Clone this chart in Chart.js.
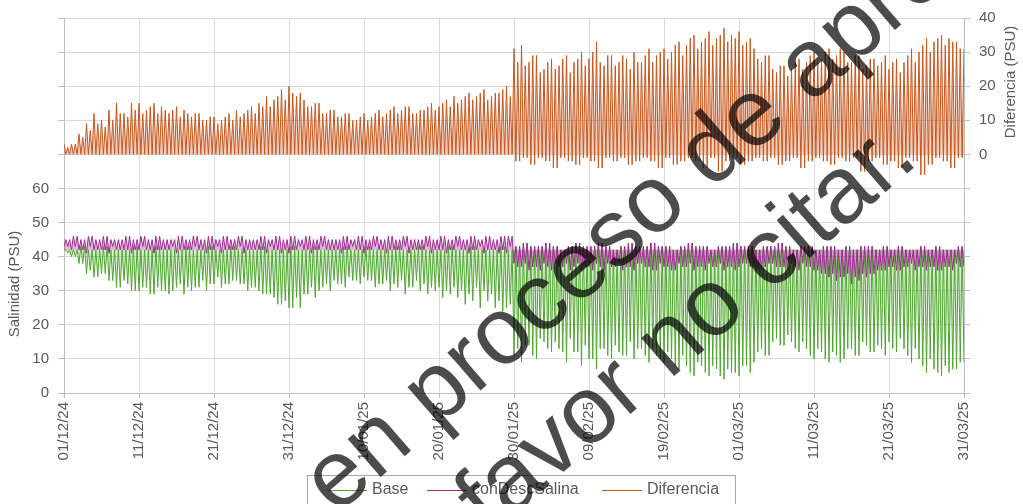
<!DOCTYPE html>
<html><head><meta charset="utf-8">
<script src="https://cdn.jsdelivr.net/npm/chart.js@4.4.1/dist/chart.umd.min.js"></script>
<style>html,body{margin:0;padding:0;background:#fff}#wrap{width:1023px;height:504px}</style>
</head><body><div id="wrap"><canvas id="c" width="1023" height="504"></canvas></div>
<script>
const tickLabels = ["01/12/24","11/12/24","21/12/24","31/12/24","10/01/25","20/01/25","30/01/25","09/02/25","19/02/25","01/03/25","11/03/25","21/03/25","31/03/25"];
const seriesNames = ["Base","conDescSalina","Diferencia"];
const wmLines = ["en proceso de aprobación","favor no citar."];

// one value per day (01/12/24 .. 31/03/25); two tidal excursions per day (A and B)
const difA = [3,3,6,9,12,10,13,15,12,15, 15,13,15,14,12,14,13,11,12,10, 11,10,12,13,12,14,15,17,16,19, 20,17,16,14,15,12,13,11,12,10, 12,11,13,12,14,13,14,12,13,15, 14,16,17,16,18,17,19,17,18,20,
  31,32,27,29,25,28,26,29,27,30, 28,33,26,29,27,28,30,27,31,29, 31,30,33,32,35,33,36,34,37,35, 36,33,31,27,29,24,26,25,28,27, 30,28,31,29,30,27,29,26,28,27, 25,28,27,31,30,34,33,35,34,33,31];
const difB = [2,3,5,7,9,8,10,12,11,13, 12,14,12,13,13,11,12,12,10,11, 9,11,10,11,13,12,14,14,17,16, 18,18,14,15,12,13,11,12,10,11, 10,12,11,13,12,14,12,13,14,13, 15,14,15,17,16,18,16,18,19,17,
  27,26,29,24,27,25,28,24,28,26, 30,27,29,26,29,25,27,29,27,30, 28,32,29,34,31,34,32,35,33,34, 32,34,28,29,25,26,23,27,25,29, 27,30,28,31,27,29,25,28,26,29, 27,24,29,27,32,30,34,32,33,31,28];
const difLo = [0,0,0,0,0,0,0,0,0,0, 0,0,0,0,0,0,0,0,0,0, 0,0,0,0,0,0,0,0,0,0, 0,0,0,0,0,0,0,0,0,0, 0,0,0,0,0,0,0,0,0,0, 0,0,0,0,0,0,0,0,0,0,
  -2,-1,-3,-1,-2,-4,-1,-2,-3,-1, -2,-4,-1,-2,-1,-3,-2,-1,-2,-4, -1,-3,-2,-1,-2,-4,-1,-5,-2,-1, -3,-2,-1,-2,-1,-3,-2,-1,-4,-2, -1,-2,-3,-1,-2,-1,-5,-2,-1,-3, -2,-4,-1,-2,-6,-3,-1,-2,-4,-1,-2];

const baseHi = [42,42,43,42,42,43,42,42,42,43, 42,42,43,42,42,42,43,42,42,43, 42,42,43,42,42,42,43,42,42,42, 43,42,42,43,42,42,42,43,42,42, 43,42,42,42,43,42,42,43,42,42, 42,43,42,42,43,42,42,42,43,42,
  43,44,43,43,44,43,42,43,44,43, 43,44,43,42,43,44,43,43,44,43, 43,42,43,44,43,43,42,43,43,44, 43,43,42,43,43,44,43,42,43,43, 42,43,43,42,43,42,43,43,42,43, 42,43,42,42,43,42,43,42,42,43,42];
const baseA = [42,40,38,35,34,35,33,31,33,30, 30,31,29,30,29,31,29,30,31,30, 32,31,32,33,32,31,30,29,28,26, 25,28,29,31,30,32,33,32,34,33, 34,33,32,33,32,33,31,33,32,31, 31,30,31,30,29,31,30,29,27,25,
  11,9,14,10,15,12,13,9,12,8, 10,7,13,10,12,11,10,13,9,11, 9,10,7,8,5,8,5,7,4,6, 5,8,9,13,11,16,14,15,12,13, 10,12,9,11,10,13,11,14,12,13, 15,12,13,9,10,6,7,5,6,7,9];
const baseB = [41,40,38,36,34,35,33,31,32,30, 31,29,31,30,30,32,31,31,33,32, 34,32,33,32,30,31,29,29,26,27, 25,25,29,28,31,30,32,31,33,32, 33,31,32,30,31,29,31,30,29,30, 28,29,28,26,27,25,27,25,24,26,
  13,14,11,16,13,15,12,16,12,14, 10,13,11,14,11,15,13,11,13,10, 12,8,11,6,9,6,8,5,7,6, 8,6,12,11,15,14,17,13,15,11, 13,10,12,9,13,11,15,12,14,11, 13,16,11,13,8,10,6,8,7,9,12];

const conHi = [45,46,45,46,45,46,45,45,46,45, 46,45,46,45,45,46,45,46,45,46, 45,46,45,46,45,45,46,45,46,45, 46,45,46,45,46,45,45,46,45,46, 45,46,45,46,45,46,45,45,46,45, 46,45,46,45,46,45,46,45,46,46,
  43,44,43,43,44,43,42,43,44,43, 43,44,43,42,43,44,43,43,44,43, 43,42,43,44,43,43,42,43,43,44, 43,43,42,43,43,44,43,42,43,43, 42,43,43,42,43,42,43,43,42,43, 42,43,42,42,43,42,43,42,42,43,42];
const conA = [43,42,42,41,42,42,41,42,42,41, 42,42,41,42,42,41,42,42,42,41, 42,41,42,42,41,42,42,41,42,41, 41,42,42,41,42,42,42,41,42,42, 41,42,42,41,42,42,41,42,42,41, 42,41,42,42,41,42,41,42,41,41,
  38,37,36,37,38,36,37,38,37,36, 37,38,36,37,38,37,36,38,37,36, 37,36,38,37,36,37,38,37,36,37, 37,38,37,36,38,37,37,38,36,37, 36,35,34,33,34,32,33,34,35,36, 37,36,37,38,37,36,37,36,37,38,37];
const conB = [43,43,42,43,42,42,43,42,42,42, 43,42,42,42,43,42,42,43,42,42, 43,42,42,43,42,42,42,43,42,42, 42,43,42,42,43,42,42,42,43,42, 42,43,42,42,42,43,42,42,43,42, 42,42,43,42,42,43,42,42,42,43,
  37,38,37,36,37,38,37,36,38,37, 36,37,38,37,36,37,38,37,36,38, 37,36,37,38,37,36,37,38,37,36, 38,37,36,37,38,37,36,37,38,37, 36,35,35,34,35,34,35,35,36,36, 37,36,37,36,37,37,36,37,36,37,36];

const colors = {base:'#4EA72E', con:'#A02B93', dif:'#C9561C'};
const fills = {base:'rgba(78,167,46,0.22)', con:'rgba(160,43,147,0.35)', dif:'rgba(201,86,28,0.28)'};

// four readings per day: first excursion, slack, second excursion, slack
function build(a, b, c, d) {
  const pts = [];
  for (let i = 0; i < a.length; i++) {
    pts.push({x:i, y:a[i]}, {x:i+0.25, y:b[i]}, {x:i+0.5, y:c[i]}, {x:i+0.75, y:d[i]});
  }
  return pts;
}

const FONT = '"Liberation Sans", Arial, sans-serif';
const TXT = '#595959';

const extras = {
  id: 'extras',
  afterDraw(chart) {
    const ctx = chart.ctx;
    ctx.save();
    ctx.fillStyle = TXT;
    ctx.font = '15px ' + FONT;
    ctx.textAlign = 'center';
    ctx.textBaseline = 'middle';
    ctx.save(); ctx.translate(15, 284); ctx.rotate(-Math.PI/2); ctx.fillText('Salinidad (PSU)', 0, 0); ctx.restore();
    ctx.save(); ctx.translate(1011, 82); ctx.rotate(-Math.PI/2); ctx.fillText('Diferencia (PSU)', 0, 0); ctx.restore();
    ctx.strokeStyle = '#a6a6a6'; ctx.lineWidth = 1;
    ctx.strokeRect(307.5, 475.5, 428, 32);
    const items = [[327, colors.base], [427, colors.con], [602, colors.dif]];
    ctx.font = '16px ' + FONT; ctx.textAlign = 'left'; ctx.textBaseline = 'middle';
    items.forEach(([x, c], i) => {
      ctx.strokeStyle = c; ctx.lineWidth = 1;
      ctx.beginPath(); ctx.moveTo(x, 490.5); ctx.lineTo(x + 40, 490.5); ctx.stroke();
      ctx.fillStyle = TXT; ctx.fillText(seriesNames[i], x + 45, 490);
    });
    ctx.fillStyle = 'rgba(0,0,0,0.7)';
    ctx.font = '95px ' + FONT;
    ctx.textAlign = 'left'; ctx.textBaseline = 'alphabetic';
    [[wmLines[0], 336, 516], [wmLines[1], 490, 536]].forEach(([t, x, y]) => {
      ctx.save(); ctx.translate(x, y); ctx.rotate(-41 * Math.PI / 180); ctx.fillText(t, 0, 0); ctx.restore();
    });
    ctx.restore();
  }
};

new Chart(document.getElementById('c'), {
  type: 'line',
  data: {
    datasets: [
      {label: seriesNames[0], data: build(baseA, baseHi, baseB, baseHi), borderColor: colors.base, backgroundColor: fills.base, fill: {value: 42}, yAxisID: 'y', order: 3},
      {label: seriesNames[1], data: build(conA, conHi, conB, conHi), borderColor: colors.con, backgroundColor: fills.con, fill: {value: 42}, yAxisID: 'y', order: 2},
      {label: seriesNames[2], data: build(difA, difLo, difB, difLo), borderColor: colors.dif, backgroundColor: fills.dif, fill: 'origin', yAxisID: 'y2', order: 1}
    ]
  },
  options: {
    responsive: false, animation: false, devicePixelRatio: 1,
    layout: {padding: {top: 14, left: 0, right: 0, bottom: 33}},
    elements: {point: {radius: 0}, line: {borderWidth: 1, tension: 0}},
    plugins: {legend: {display: false}, tooltip: {enabled: false}},
    scales: {
      x: {
        type: 'linear', min: 0, max: 120,
        ticks: {stepSize: 10, autoSkip: false, maxRotation: 90, minRotation: 90, padding: 4, color: TXT, font: {family: FONT, size: 15},
          callback: v => tickLabels[Math.round(v / 10)]},
        grid: {color: '#d9d9d9', tickLength: 5, tickColor: '#bfbfbf'},
        border: {color: '#bfbfbf'},
        afterFit: s => { s.height = 78; }
      },
      y: {
        position: 'left', min: 0, max: 110,
        ticks: {stepSize: 10, padding: 9, color: TXT, font: {family: FONT, size: 15}, callback: v => v <= 60 ? v : ''},
        grid: {color: '#d9d9d9', tickLength: 6, tickColor: '#bfbfbf'},
        border: {color: '#bfbfbf'},
        afterFit: s => { s.width = 64; }
      },
      y2: {
        position: 'right', min: -70, max: 40,
        ticks: {stepSize: 10, padding: 9, color: TXT, font: {family: FONT, size: 15}, callback: v => v >= 0 ? v : ''},
        grid: {drawOnChartArea: false, tickLength: 6, tickColor: '#bfbfbf'},
        border: {color: '#bfbfbf'},
        afterFit: s => { s.width = 59; }
      }
    }
  },
  plugins: [extras]
});
</script>
</body></html>
